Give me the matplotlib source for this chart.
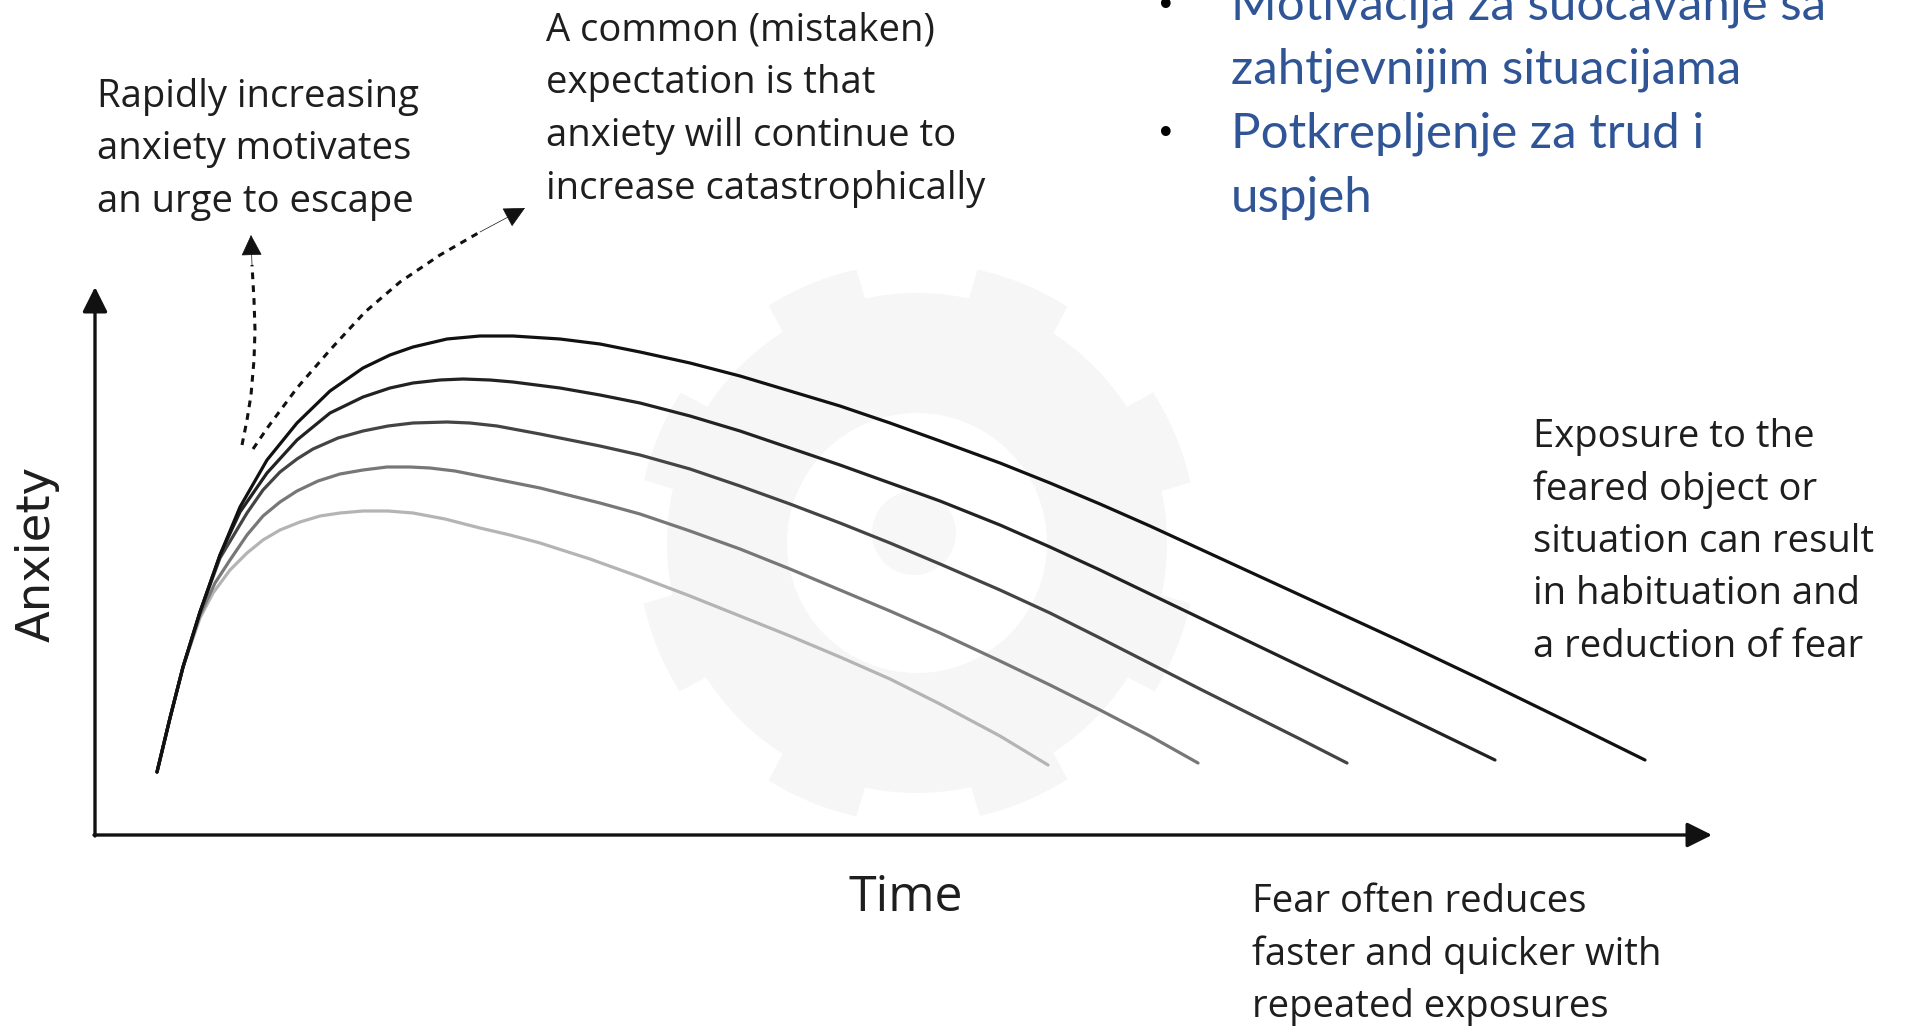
import numpy as np
import matplotlib
matplotlib.use('Agg')
import matplotlib.pyplot as plt
from matplotlib.patches import Polygon, Circle

# anxiety curves for five successive exposures (time, anxiety); origin = axes corner
t_exp1 = [62, 75, 88, 105, 125, 145, 172, 202, 235, 268, 295, 318, 352, 385, 418, 465, 505, 545,
          595, 645, 695, 745, 795, 845, 905, 955, 1005, 1055, 1105, 1205, 1305, 1385, 1465, 1550]
a_exp1 = [63, 117, 168, 223, 280, 328, 375, 412, 444, 467, 480, 488, 496, 499, 499, 496, 491, 483,
          472, 459, 444, 429, 412, 394, 372, 352, 331, 309, 286, 240, 194, 156, 117, 75]

t_exp2 = [62, 75, 88, 105, 125, 145, 172, 202, 235, 268, 295, 318, 345, 368, 395, 418, 465, 505,
          545, 595, 645, 695, 745, 795, 845, 905, 955, 1005, 1055, 1105, 1205, 1305, 1400]
a_exp2 = [63, 117, 168, 223, 280, 323, 362, 395, 422, 438, 447, 452, 455, 456, 455, 453, 447, 440,
          432, 419, 404, 387, 370, 352, 334, 310, 288, 265, 241, 217, 169, 121, 75]

t_exp3 = [62, 75, 88, 105, 125, 152, 168, 185, 202, 218, 243, 268, 293, 318, 352, 375, 402, 445,
          465, 505, 545, 595, 645, 695, 745, 795, 845, 905, 955, 1005, 1105, 1205, 1252]
a_exp3 = [63, 117, 168, 223, 277, 322, 345, 363, 376, 386, 397, 404, 409, 412, 413, 412, 409, 401,
          397, 389, 380, 366, 349, 331, 312, 292, 271, 245, 222, 197, 146, 96, 72]

t_exp4 = [62, 75, 88, 105, 120, 135, 152, 168, 185, 202, 223, 245, 268, 292, 315, 335, 360, 385,
          415, 445, 465, 505, 545, 595, 645, 695, 745, 795, 845, 905, 955, 1005, 1055, 1103]
a_exp4 = [63, 117, 168, 220, 252, 275, 300, 319, 333, 344, 354, 361, 365, 368, 368, 367, 364, 359,
          353, 347, 342, 332, 321, 304, 286, 266, 245, 224, 202, 174, 150, 125, 99, 72]

t_exp5 = [62, 75, 88, 105, 118, 135, 152, 168, 185, 205, 225, 245, 268, 293, 318, 350, 385, 415,
          445, 495, 545, 595, 645, 695, 745, 795, 845, 905, 953]
a_exp5 = [63, 117, 168, 217, 242, 265, 282, 295, 305, 313, 319, 322, 324, 324, 322, 316, 307, 300,
          292, 276, 258, 239, 219, 199, 178, 156, 131, 99, 70]

exp_colors = ['#111111', '#222222', '#444444', '#777777', '#b4b4b4']

# dashed "expected" paths
t_escape = [147, 152, 156, 159, 160, 159, 157, 156]
a_escape = [390, 415, 440, 475, 505, 535, 570, 600]
t_catastrophe = [158, 173, 202, 235, 270, 305, 345, 385, 430]
a_catastrophe = [386, 408, 447, 485, 523, 553, 580, 603, 627]

note_escape = ["Rapidly increasing", "anxiety motivates", "an urge to escape"]
note_mistaken = ["A common (mistaken)", "expectation is that",
                 "anxiety will continue to", "increase catastrophically"]
note_habituation = ["Exposure to the", "feared object or", "situation can result",
                    "in habituation and", "a reduction of fear"]
note_repeated = ["Fear often reduces", "faster and quicker with", "repeated exposures"]
bullet_lines = ["Motivacija za suočavanje sa", "zahtjevnijim situacijama",
                "Potkrepljenje za trud i", "uspjeh"]
bullet_starts = [True, False, True, False]

W, H = 1908, 1026
fig = plt.figure(figsize=(W / 100, H / 100), dpi=100)
ax = fig.add_axes([0, 0, 1, 1])
ax.set_xlim(-95, W - 95)
ax.set_ylim(835 - H, 835)
ax.axis('off')

# faint gear watermark
gc = (822, 292)
ang = np.linspace(0, 2 * np.pi, 721)
r = np.full_like(ang, 250.0)
for k in range(8):
    c = np.deg2rad(22.5 + 45 * k)
    d = np.abs((ang - c + np.pi) % (2 * np.pi) - np.pi)
    r[d < np.deg2rad(10)] = 280
gear = Polygon(np.c_[gc[0] + r * np.cos(ang), gc[1] + r * np.sin(ang)],
               closed=True, fc='#f6f6f6', ec='none', zorder=0)
ax.add_patch(gear)
ax.add_patch(Circle(gc, 130, fc='white', ec='none', zorder=0))
ax.add_patch(Circle((gc[0] - 3, gc[1] + 10), 42, fc='#f7f7f7', ec='none', zorder=0))

# axes with arrows
arrow_kw = dict(arrowstyle='-|>', color='#111111', lw=2.4, mutation_scale=38,
                shrinkA=0, shrinkB=0)
ax.annotate('', xy=(0, 548), xytext=(0, -1), arrowprops=arrow_kw)
ax.annotate('', xy=(1617, 0), xytext=(-1, 0), arrowprops=arrow_kw)

curves = [(t_exp5, a_exp5), (t_exp4, a_exp4), (t_exp3, a_exp3), (t_exp2, a_exp2), (t_exp1, a_exp1)]
for (tt, aa), col in zip(curves, exp_colors[::-1]):
    ax.plot(tt, aa, color=col, lw=2.3, solid_capstyle='round', solid_joinstyle='round')

for tt, aa in [(t_escape, a_escape), (t_catastrophe, a_catastrophe)]:
    ax.plot(tt[:-1], aa[:-1], color='#111111', lw=2.2, linestyle=(0, (2.2, 2.0)))
    ax.annotate('', xy=(tt[-1], aa[-1]), xytext=(tt[-2], aa[-2]),
                arrowprops=dict(arrowstyle='-|>', color='#111111', lw=0.5,
                                mutation_scale=34, shrinkA=0, shrinkB=0))

txt_font = 'Open Sans'
txt_col = '#1e1e1e'


def block(lines, t0, a0, step=52.5, size=27.5):
    for i, s in enumerate(lines):
        ax.text(t0, a0 - i * step, s, fontsize=size, family=txt_font, color=txt_col,
                ha='left', va='center')


block(note_escape, 2, 738)
block(note_mistaken, 451, 804)
block(note_habituation, 1438, 398)
block(note_repeated, 1157, -67)

ax.text(811, -63, 'Time', fontsize=36, family=txt_font, color=txt_col, ha='center', va='center')
ax.text(-58, 281, 'Anxiety', fontsize=33.5, family='DejaVu Sans', color=txt_col,
        ha='center', va='center', rotation=90)

blue = '#2f5597'
for i, (s, b) in enumerate(zip(bullet_lines, bullet_starts)):
    a = 829 - i * 64
    ax.text(1136, a, s, fontsize=35.5, family='Lato', color=blue, ha='left', va='center')
    if b:
        ax.text(1061, a, '•', fontsize=24, family='DejaVu Sans', color='black',
                ha='left', va='center')

fig.savefig('out.png', dpi=100)
